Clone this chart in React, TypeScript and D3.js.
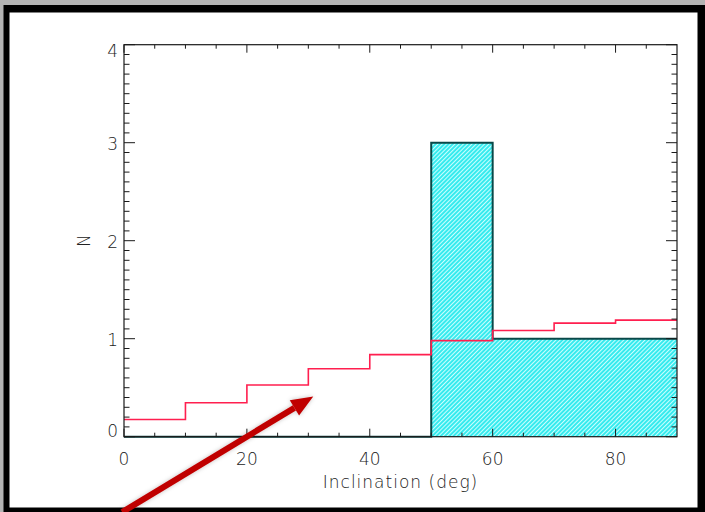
import React from "react";
import * as d3 from "d3";

// ---- Data ----
const binEdges = [0, 10, 20, 30, 40, 50, 60, 70, 80, 90];
const observedCounts = [0, 0, 0, 0, 0, 3, 1, 1, 1];
const modelCounts = [0.176, 0.346, 0.527, 0.694, 0.837, 0.98, 1.083, 1.159, 1.19];
const xTicksMajor = [0, 20, 40, 60, 80];
const xTicksMinor = [5, 10, 15, 25, 30, 35, 45, 50, 55, 65, 70, 75, 85];
const yTicksMajor = [0, 1, 2, 3, 4];
const xLabel = "Inclination (deg)";
const yLabel = "N";
// annotation arrow in data units: [start, tip]
const arrowPoints: [number, number][] = [[-0.3, -0.77], [30.8, 0.41]];

const W = 705;
const H = 512;
const M = { left: 124, right: 677, top: 44.7, bottom: 436.7 };
const FONT = "'DejaVu Sans', sans-serif";

export default function App() {
  const x = d3.scaleLinear().domain([0, 90]).range([M.left, M.right]);
  const y = d3.scaleLinear().domain([0, 4]).range([M.bottom, M.top]);

  const stepPts = (counts: number[]) =>
    [...counts.map((c, i) => [binEdges[i], c] as [number, number]),
     [binEdges[binEdges.length - 1], counts[counts.length - 1]] as [number, number]];

  const line = d3.line<[number, number]>().x(d => x(d[0])).y(d => y(d[1])).curve(d3.curveStepAfter);
  const area = d3.area<[number, number]>().x(d => x(d[0])).y0(y(0)).y1(d => y(d[1])).curve(d3.curveStepAfter);

  const obsPts = stepPts(observedCounts);
  const modPts = stepPts(modelCounts);

  const yMinor = d3.range(0, 4.001, 0.1).filter(v => Math.abs(v - Math.round(v)) > 1e-6);

  const a0 = arrowPoints[0], a1 = arrowPoints[1];
  const ax0 = x(a0[0]), ay0 = y(a0[1]), ax1 = x(a1[0]), ay1 = y(a1[1]);
  const ang = Math.atan2(ay1 - ay0, ax1 - ax0);
  const headL = 22, headW = 9;
  const bx = ax1 - headL * Math.cos(ang), by = ay1 - headL * Math.sin(ang);
  const px = -Math.sin(ang), py = Math.cos(ang);

  const axisColor = "#1a1a1a";
  const xMajLen = 8, xMinLen = 4, yMajLen = 11, yMinLen = 5.5;

  return (
    <div style={{ position: "fixed", left: 0, top: 0 }}>
      <svg width={W} height={H} style={{ display: "block" }}>
        <defs>
          <pattern id="hatch" width="3" height="3" patternUnits="userSpaceOnUse" patternTransform="rotate(45)">
            <rect width="3" height="3" fill="#33eaee" />
            <line x1="0.5" y1="0" x2="0.5" y2="3" stroke="#caffff" strokeWidth="1.1" />
          </pattern>
          <filter id="shadow" x="-20%" y="-20%" width="140%" height="140%">
            <feDropShadow dx="0" dy="0" stdDeviation="2" floodColor="#000" floodOpacity="0.25" />
          </filter>
        </defs>
        {/* window frame */}
        <rect x={0} y={0} width={W} height={H} fill="#b4b4b4" />
        <rect x={3.5} y={5} width={W - 3.5} height={H - 5} fill="#000" />
        <rect x={9.5} y={12.5} width={W - 17} height={H - 17} fill="#fff" />

        {/* observed histogram */}
        <path d={area(obsPts) || ""} fill="url(#hatch)" />
        <path d={line(obsPts) || ""} fill="none" stroke="#0a4848" strokeWidth={2} />

        {/* model histogram */}
        <path d={line(modPts) || ""} fill="none" stroke="#ff1f4f" strokeWidth={1.6} />

        {/* axes box */}
        <rect x={M.left} y={M.top} width={M.right - M.left} height={M.bottom - M.top} fill="none" stroke={axisColor} strokeWidth={1.2} />
        {xTicksMajor.map(v => (
          <g key={"xM" + v}>
            <line x1={x(v)} x2={x(v)} y1={M.bottom} y2={M.bottom - xMajLen} stroke={axisColor} />
            <line x1={x(v)} x2={x(v)} y1={M.top} y2={M.top + xMajLen} stroke={axisColor} />
          </g>
        ))}
        {xTicksMinor.map(v => (
          <g key={"xm" + v}>
            <line x1={x(v)} x2={x(v)} y1={M.bottom} y2={M.bottom - xMinLen} stroke={axisColor} />
            <line x1={x(v)} x2={x(v)} y1={M.top} y2={M.top + xMinLen} stroke={axisColor} />
          </g>
        ))}
        {yTicksMajor.map(v => (
          <g key={"yM" + v}>
            <line x1={M.left} x2={M.left + yMajLen} y1={y(v)} y2={y(v)} stroke={axisColor} />
            <line x1={M.right} x2={M.right - yMajLen} y1={y(v)} y2={y(v)} stroke={axisColor} />
          </g>
        ))}
        {yMinor.map(v => (
          <g key={"ym" + v.toFixed(1)}>
            <line x1={M.left} x2={M.left + yMinLen} y1={y(v)} y2={y(v)} stroke={axisColor} />
            <line x1={M.right} x2={M.right - yMinLen} y1={y(v)} y2={y(v)} stroke={axisColor} />
          </g>
        ))}

        {/* tick labels */}
        {xTicksMajor.map(v => (
          <text key={"xl" + v} x={x(v)} y={M.bottom + 28} textAnchor="middle" fontFamily={FONT} fontSize={17} fontWeight={300} fill="#222">{v}</text>
        ))}
        {yTicksMajor.map(v => (
          <text key={"yl" + v} x={M.left - 6} y={y(v) + (v === 0 ? 0 : v === 4 ? 12.5 : 7.5)} textAnchor="end" fontFamily={FONT} fontSize={17} fontWeight={300} fill="#222">{v}</text>
        ))}
        <text x={(x(0) + x(90)) / 2} y={488} textAnchor="middle" fontFamily={FONT} fontSize={17} fontWeight={300} letterSpacing={1} fill="#222">{xLabel}</text>
        <text transform={`translate(${90},${y(2)}) rotate(-90)`} textAnchor="middle" fontFamily={FONT} fontSize={17} fontWeight={300} fill="#222">{yLabel}</text>

        {/* annotation arrow */}
        <g filter="url(#shadow)">
          <line x1={ax0} y1={ay0} x2={bx} y2={by} stroke="#c00000" strokeWidth={6} />
          <polygon
            points={`${ax1},${ay1} ${bx + px * headW},${by + py * headW} ${bx - px * headW},${by - py * headW}`}
            fill="#c00000"
          />
        </g>
      </svg>
    </div>
  );
}
